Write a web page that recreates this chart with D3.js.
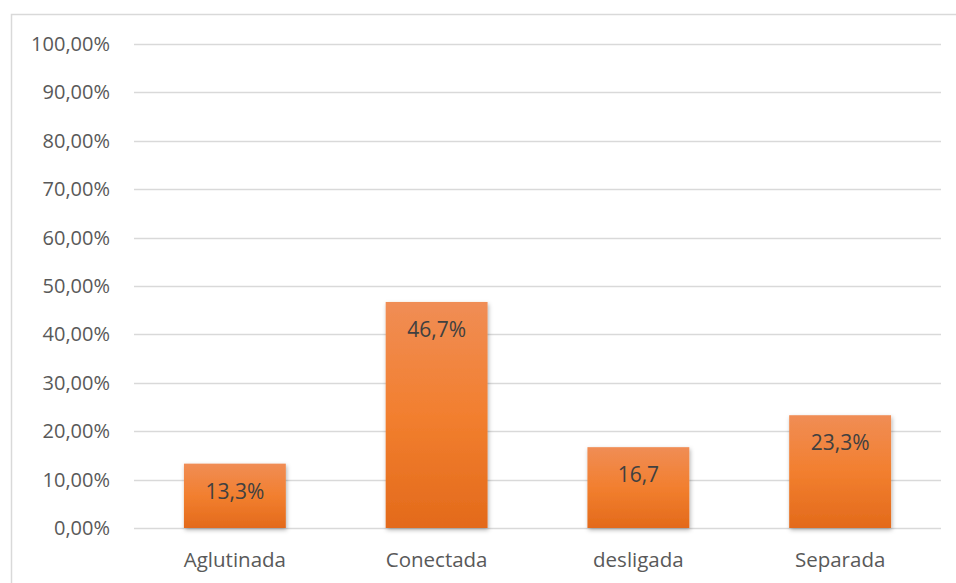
<!DOCTYPE html>
<html>
<head>
<meta charset="utf-8">
<script src="https://cdn.jsdelivr.net/npm/d3@7"></script>
<style>
  body { margin: 0; background: #fff; }
  svg text { font-family: "Open Sans", Lato, sans-serif; }
</style>
</head>
<body>
<div id="chart"></div>
<script>
"use strict";

// Data
const categories = ["Aglutinada", "Conectada", "desligada", "Separada"];
const values = [13.3, 46.7, 16.7, 23.3];
const valueLabels = ["13,3%", "46,7%", "16,7", "23,3%"];
const yTicks = [0, 10, 20, 30, 40, 50, 60, 70, 80, 90, 100];

// Size of SVG
const w = 956;
const h = 583;
const margin = {top: 44, right: 15, bottom: 55, left: 134};

const svg = d3.select("#chart")
	.append("svg")
	.attr("width", w)
	.attr("height", h);

// Gradient + shadow for bars
const defs = svg.append("defs");
const grad = defs.append("linearGradient")
	.attr("id", "barGrad")
	.attr("x1", 0).attr("y1", 0).attr("x2", 0).attr("y2", 1);
grad.append("stop").attr("offset", "0%").attr("stop-color", "#f08d55");
grad.append("stop").attr("offset", "50%").attr("stop-color", "#f27f2f");
grad.append("stop").attr("offset", "100%").attr("stop-color", "#e36a1b");

const shadow = defs.append("filter")
	.attr("id", "shadow")
	.attr("x", "-10%").attr("y", "-10%")
	.attr("width", "130%").attr("height", "130%");
shadow.append("feDropShadow")
	.attr("dx", 1).attr("dy", 2)
	.attr("stdDeviation", 2)
	.attr("flood-color", "#000")
	.attr("flood-opacity", 0.3);

// Chart border
svg.append("rect")
	.attr("x", 11.5)
	.attr("y", 14.5)
	.attr("width", w + 20)
	.attr("height", h + 20)
	.attr("fill", "none")
	.attr("stroke", "#d9d9d9")
	.attr("stroke-width", 1.5);

// Scales
const x = d3.scaleBand()
	.domain(categories)
	.range([margin.left, w - margin.right])
	.paddingInner(0.495)
	.paddingOuter(0.2475);

const y = d3.scaleLinear()
	.domain([0, 100])
	.range([h - margin.bottom, margin.top]);

// Gridlines
svg.append("g")
	.selectAll("line")
	.data(yTicks)
	.enter()
	.append("line")
	.attr("x1", margin.left)
	.attr("x2", w - margin.right)
	.attr("y1", d => Math.round(y(d)) + 0.5)
	.attr("y2", d => Math.round(y(d)) + 0.5)
	.attr("stroke", "#d9d9d9")
	.attr("stroke-width", 1.5);

// Y axis labels
const yAxis = d3.axisLeft(y)
	.tickValues(yTicks)
	.tickSize(0)
	.tickPadding(24)
	.tickFormat(d => d.toFixed(2).replace(".", ",") + "%");

svg.append("g")
	.attr("transform", "translate(" + margin.left + ",0)")
	.call(yAxis)
	.call(g => g.select(".domain").remove())
	.selectAll("text")
	.attr("fill", "#595959")
	.style("font-size", "20px");

// X axis labels
const xAxis = d3.axisBottom(x)
	.tickSize(0)
	.tickPadding(24);

svg.append("g")
	.attr("transform", "translate(0," + y(0) + ")")
	.call(xAxis)
	.call(g => g.select(".domain").remove())
	.selectAll("text")
	.attr("fill", "#595959")
	.style("font-size", "20.5px");

// Bars
svg.append("g")
	.selectAll("rect")
	.data(values)
	.enter()
	.append("rect")
	.attr("x", (d, i) => x(categories[i]))
	.attr("y", d => y(d))
	.attr("width", x.bandwidth())
	.attr("height", d => y(0) - y(d))
	.attr("fill", "url(#barGrad)")
	.attr("filter", "url(#shadow)");

// Value labels
svg.append("g")
	.selectAll("text")
	.data(values)
	.enter()
	.append("text")
	.attr("x", (d, i) => x(categories[i]) + x.bandwidth() / 2)
	.attr("y", d => y(d) + 35)
	.attr("text-anchor", "middle")
	.attr("fill", "#404040")
	.style("font-size", "21px")
	.text((d, i) => valueLabels[i]);
</script>
</body>
</html>
